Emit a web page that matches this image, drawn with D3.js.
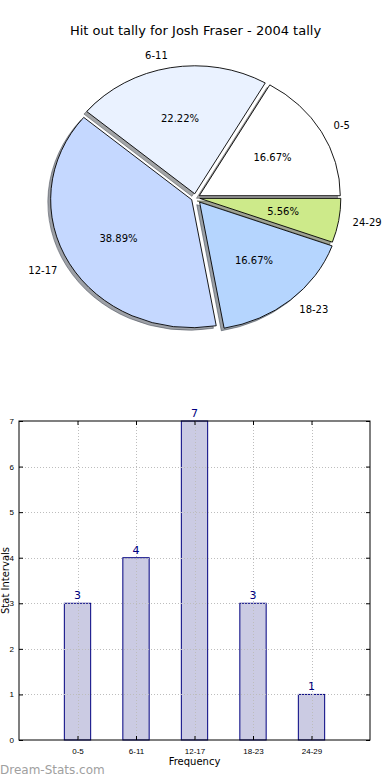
<!DOCTYPE html>
<html>
<head>
<meta charset="utf-8">
<script src="https://cdn.jsdelivr.net/npm/d3@7"></script>
<style>
  body { margin: 0; background: #fff; }
  svg { display: block; font-family: 'DejaVu Sans', sans-serif; }
</style>
</head>
<body>
<svg id="chart" width="390" height="780"></svg>
<script>
// data
const categories = ['0-5', '6-11', '12-17', '18-23', '24-29']
const tally = [3, 4, 7, 3, 1]
const sliceColors = ['#ffffff', '#eaf2ff', '#c5d8ff', '#b5d5fe', '#cdea8a']
const explode = [0.031, 0.031, 0.031, 0.045, 0.031]
const yTicks = [0, 1, 2, 3, 4, 5, 6, 7]

const title = 'Hit out tally for Josh Fraser - 2004 tally'

const svg = d3.select('#chart')

svg.append('text')
  .attr('x', 195.5)
  .attr('y', 35)
  .attr('text-anchor', 'middle')
  .style('font-size', '13px')
  .text(title)

// ---- pie (axes not equal, so it comes out as an ellipse) ----
const cx = 195.5
const cy = 197.7
const rx = 141
const ry = 128
const px = d3.scaleLinear().domain([-1, 1]).range([cx - rx, cx + rx])
const py = d3.scaleLinear().domain([-1, 1]).range([cy + ry, cy - ry])

// matplotlib style: start at 3 o'clock, go counter-clockwise
const pie = d3.pie().sort(null).startAngle(Math.PI / 2).endAngle(Math.PI / 2 - 2 * Math.PI)
const arcs = pie(tally)
const arc = d3.arc().innerRadius(0).outerRadius(1)
const total = d3.sum(tally)

arcs.forEach((d, i) => {
  const mid = (d.startAngle + d.endAngle) / 2
  d.dx = Math.sin(mid) // cos of math angle
  d.dy = Math.cos(mid) // sin of math angle
  d.ox = explode[i] * d.dx
  d.oy = explode[i] * d.dy
})

const shade = c => {
  const k = d3.rgb(c)
  return d3.rgb(k.r * 0.3, k.g * 0.3, k.b * 0.3)
}

// shadows sit below every wedge
svg.append('g')
  .selectAll('path')
  .data(arcs)
  .join('path')
  .attr('transform', d => `translate(${px(d.ox - 0.02)},${py(d.oy - 0.02)}) scale(${rx},${ry})`)
  .attr('d', arc)
  .attr('fill', (d, i) => shade(sliceColors[i]))
  .attr('fill-opacity', 0.5)
  .attr('stroke', (d, i) => shade(sliceColors[i]))
  .attr('stroke-opacity', 0.5)
  .attr('vector-effect', 'non-scaling-stroke')

svg.append('g')
  .selectAll('path')
  .data(arcs)
  .join('path')
  .attr('transform', d => `translate(${px(d.ox)},${py(d.oy)}) scale(${rx},${ry})`)
  .attr('d', arc)
  .attr('fill', (d, i) => sliceColors[i])
  .attr('stroke', '#000')
  .attr('stroke-width', 0.9)
  .attr('vector-effect', 'non-scaling-stroke')

svg.append('g')
  .style('font-size', '10px')
  .selectAll('text')
  .data(arcs)
  .join('text')
  .attr('x', d => px(d.ox + 1.1 * d.dx))
  .attr('y', d => py(d.oy + 1.1 * d.dy))
  .attr('dy', '0.35em')
  .attr('text-anchor', d => d.dx > 0 ? 'start' : 'end')
  .text((d, i) => categories[i])

svg.append('g')
  .style('font-size', '10px')
  .selectAll('text')
  .data(arcs)
  .join('text')
  .attr('x', d => px(d.ox + 0.6 * d.dx))
  .attr('y', d => py(d.oy + 0.6 * d.dy))
  .attr('dy', '0.35em')
  .attr('text-anchor', 'middle')
  .text(d => (100 * d.value / total).toFixed(2) + '%')

// ---- bar chart ----
const plotLeft = 19
const plotRight = 370
const plotTop = 421
const plotBottom = 740
const x = d3.scaleLinear().domain([-1, categories.length]).range([plotLeft, plotRight])
const y = d3.scaleLinear().domain([0, 7]).range([plotBottom, plotTop])
const barW = 0.45

const plot = svg.append('g')

plot.selectAll('rect.bar')
  .data(tally)
  .join('rect')
  .attr('class', 'bar')
  .attr('x', (d, i) => x(i - barW / 2))
  .attr('y', d => y(d))
  .attr('width', x(barW) - x(0))
  .attr('height', d => y(0) - y(d))
  .attr('fill', '#cbcbe3')
  .attr('stroke', '#000080')
  .attr('stroke-width', 1)

// dotted grid
const grid = plot.append('g')
  .attr('stroke', '#bdbdbd')
  .attr('stroke-dasharray', '1,2')
  .attr('stroke-width', 1)
grid.selectAll('line.h')
  .data(yTicks.slice(1, -1))
  .join('line')
  .attr('class', 'h')
  .attr('x1', plotLeft)
  .attr('x2', plotRight)
  .attr('y1', d => Math.round(y(d)) + 0.5)
  .attr('y2', d => Math.round(y(d)) + 0.5)
grid.selectAll('line.v')
  .data(categories)
  .join('line')
  .attr('class', 'v')
  .attr('x1', (d, i) => Math.round(x(i)) + 0.5)
  .attr('x2', (d, i) => Math.round(x(i)) + 0.5)
  .attr('y1', plotTop)
  .attr('y2', plotBottom)

plot.append('g')
  .attr('fill', '#000080')
  .style('font-size', '11px')
  .selectAll('text')
  .data(tally)
  .join('text')
  .attr('x', (d, i) => x(i))
  .attr('y', d => y(d) - 4)
  .attr('text-anchor', 'middle')
  .text(d => d)

// axes: ticks point inward on all four sides
const tick = 4
const yAxisL = d3.axisLeft(y).tickValues(yTicks).tickSize(-tick).tickPadding(5).tickFormat(d3.format('d'))
const yAxisR = d3.axisRight(y).tickValues(yTicks).tickSize(-tick).tickFormat('')
const xAxisB = d3.axisBottom(x).tickValues(d3.range(categories.length)).tickSize(-tick).tickPadding(8)
  .tickFormat(i => categories[i])
const xAxisT = d3.axisTop(x).tickValues(d3.range(categories.length)).tickSize(-tick).tickFormat('')

const styleAxis = g => {
  g.select('.domain').remove()
  g.selectAll('text').style('font-size', '8px').attr('fill', '#000')
  g.selectAll('line').attr('stroke', '#000')
}
svg.append('g').attr('transform', `translate(${plotLeft},0)`).call(yAxisL).call(styleAxis)
svg.append('g').attr('transform', `translate(${plotRight},0)`).call(yAxisR).call(styleAxis)
svg.append('g').attr('transform', `translate(0,${plotBottom})`).call(xAxisB).call(styleAxis)
svg.append('g').attr('transform', `translate(0,${plotTop})`).call(xAxisT).call(styleAxis)

svg.append('rect')
  .attr('x', plotLeft)
  .attr('y', plotTop)
  .attr('width', plotRight - plotLeft)
  .attr('height', plotBottom - plotTop)
  .attr('fill', 'none')
  .attr('stroke', '#000')
  .attr('stroke-width', 1)

svg.append('text')
  .attr('x', (plotLeft + plotRight) / 2)
  .attr('y', 765)
  .attr('text-anchor', 'middle')
  .style('font-size', '10px')
  .text('Frequency')

svg.append('text')
  .attr('transform', `translate(8.5,${(plotTop + plotBottom) / 2}) rotate(-90)`)
  .attr('text-anchor', 'middle')
  .style('font-size', '10px')
  .text('Stat Intervals')

svg.append('text')
  .attr('x', 0)
  .attr('y', 774)
  .attr('fill', '#a0a0a0')
  .style('font-size', '12px')
  .text('Dream-Stats.com')
</script>
</body>
</html>
